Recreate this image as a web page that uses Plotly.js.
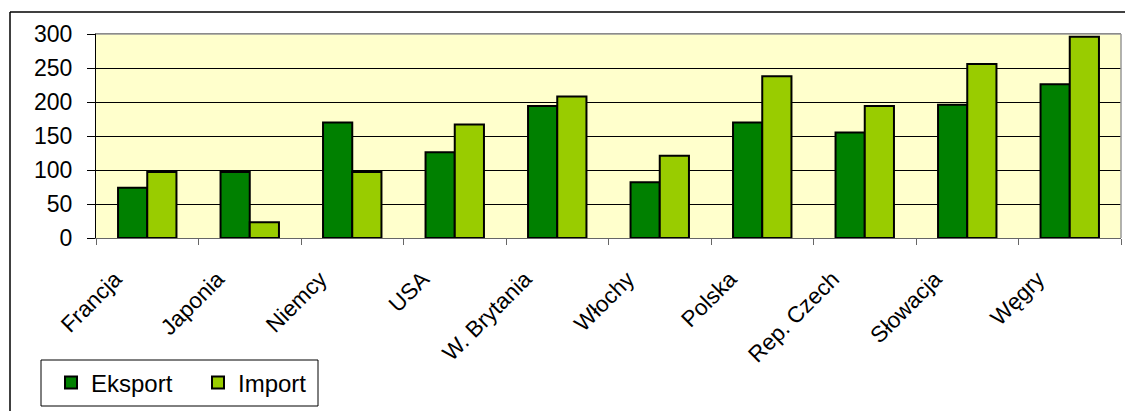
<!DOCTYPE html>
<html><head><meta charset="utf-8">
<script src="https://cdn.plot.ly/plotly-3.0.1.min.js"></script>
<style>body{margin:0;background:#fff}#c{width:1125px;height:411px}</style>
</head><body><div id="c"></div>
<script>
const categories = ["Francja","Japonia","Niemcy","USA","W. Brytania","Włochy","Polska","Rep. Czech","Słowacja","Węgry"];
const eksport = [74, 97, 170, 126, 194, 82, 170, 155, 196, 226];
const importVals = [97, 23, 97, 167, 208, 121, 238, 194, 256, 296];
const yTicks = [0, 50, 100, 150, 200, 250, 300];

const L = 96, R = 1121, T = 34, B = 238, W = 1125, H = 411;
const px = x => (x - L) / (R - L);
const py = y => (B - y) / (B - T);

const traces = [
  {type:'bar', name:'Eksport', x:categories, y:eksport,
   marker:{color:'#008000', line:{color:'#000', width:2}}},
  {type:'bar', name:'Import', x:categories, y:importVals,
   marker:{color:'#99CC00', line:{color:'#000', width:2}}}
];
const layout = {
  width:W, height:H,
  margin:{l:L, r:W-R, t:T, b:H-B, pad:0},
  paper_bgcolor:'#fff', plot_bgcolor:'#FFFFCC',
  font:{family:'Liberation Sans, Arial, sans-serif', color:'#000'},
  barmode:'group', bargap:0.43, bargroupgap:0,
  showlegend:true,
  legend:{orientation:'h', x:px(51), xanchor:'left', y:py(383), yanchor:'middle',
          borderwidth:0, bgcolor:'rgba(0,0,0,0)',
          font:{size:24}, itemwidth:30, entrywidth:102},
  xaxis:{type:'category', tickangle:-45, tickfont:{size:22.5},
         ticks:'outside', tickson:'boundaries', ticklen:6, tickcolor:'#666',
         showline:true, linecolor:'#666', linewidth:1, mirror:true,
         showgrid:false, ticklabelstandoff:18, ticklabelshift:-32},
  yaxis:{range:[0,300], tickvals:yTicks, tickfont:{size:23},
         ticks:'outside', ticklen:8, tickcolor:'#000',
         showline:true, linecolor:'#000', linewidth:1,
         showgrid:true, gridcolor:'#000', gridwidth:1, zeroline:false,
         ticklabelstandoff:10},
  shapes:[
    {type:'line', xref:'paper', yref:'paper', x0:px(10), x1:px(1130), y0:py(12), y1:py(12), line:{color:'#000', width:1.5}},
    {type:'line', xref:'paper', yref:'paper', x0:px(10), x1:px(10), y0:py(12), y1:py(420), line:{color:'#000', width:1.5}},
    {type:'line', xref:'paper', yref:'paper', x0:0, x1:1, y0:1, y1:1, line:{color:'#999', width:1.5}},
    {type:'line', xref:'paper', yref:'paper', x0:1, x1:1, y0:0, y1:1, line:{color:'#999', width:1.5}},
    {type:'rect', xref:'paper', yref:'paper', x0:px(41), x1:px(318), y0:py(360), y1:py(406), line:{color:'#000', width:1}, fillcolor:'rgba(0,0,0,0)'}
  ]
};
Plotly.newPlot('c', traces, layout, {displayModeBar:false, staticPlot:true});
</script></body></html>
